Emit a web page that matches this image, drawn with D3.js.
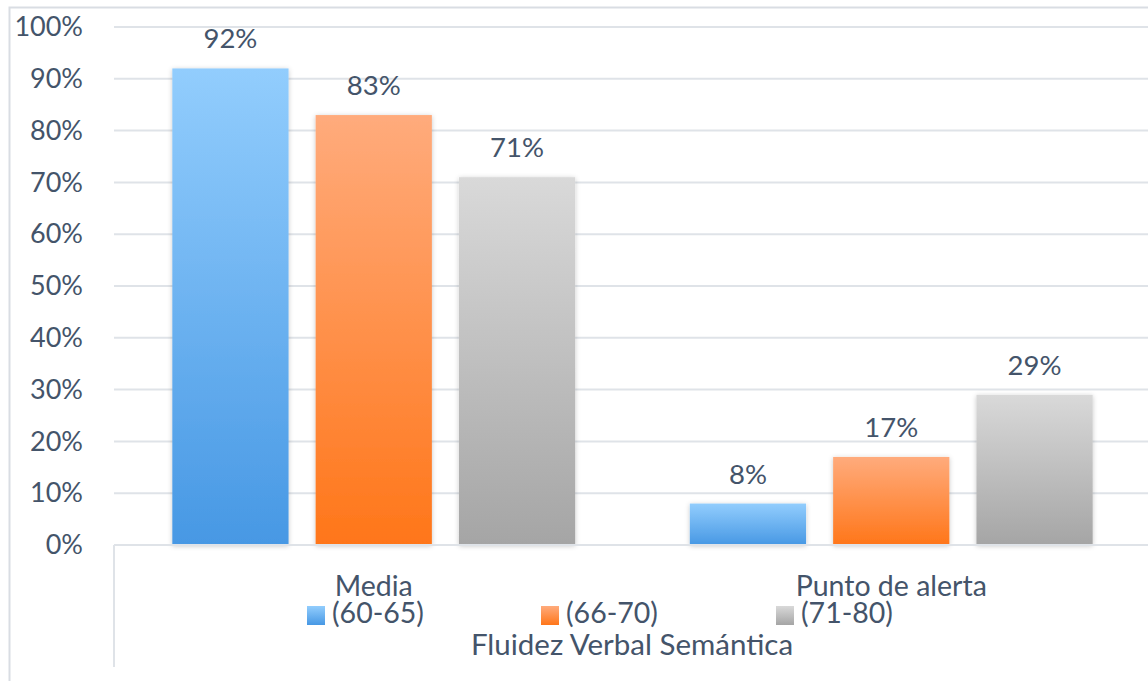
<!DOCTYPE html>
<html>
<head>
<meta charset="utf-8">
<script src="https://cdn.jsdelivr.net/npm/d3@7"></script>
<style>
  body { margin: 0; background: #fff; }
  svg { display: block; font-family: Lato, "Open Sans", sans-serif; }
</style>
</head>
<body>
<div id="chart"></div>
<script>
const categories = ["Media", "Punto de alerta"];
const seriesNames = ["(60-65)", "(66-70)", "(71-80)"];
const seriesValues = [
    [92, 8],
    [83, 17],
    [71, 29]
];
const yTicks = [0, 10, 20, 30, 40, 50, 60, 70, 80, 90, 100];
const axisTitle = "Fluidez Verbal Semántica";

const gradients = [
    ["#92cdfd", "#4798e4"],
    ["#ffab7c", "#ff7619"],
    ["#d9d9d9", "#a5a5a5"]
];
const textColor = "#44546a";

const width = 1148;
const height = 681;
const margin = { top: 27, right: -2, bottom: 136, left: 115 };
const plotW = width - margin.left - margin.right;
const plotH = height - margin.top - margin.bottom;

const svg = d3.select("#chart")
    .append("svg")
    .attr("width", width)
    .attr("height", height);

const defs = svg.append("defs");
gradients.forEach((g, i) => {
    const lg = defs.append("linearGradient")
        .attr("id", "grad" + i)
        .attr("x1", 0).attr("y1", 0).attr("x2", 0).attr("y2", 1);
    lg.append("stop").attr("offset", "0%").attr("stop-color", g[0]);
    lg.append("stop").attr("offset", "100%").attr("stop-color", g[1]);
});
const shadow = defs.append("filter").attr("id", "shadow")
    .attr("x", "-20%").attr("y", "-20%").attr("width", "140%").attr("height", "140%");
shadow.append("feDropShadow")
    .attr("dx", 0).attr("dy", 1).attr("stdDeviation", 2.5)
    .attr("flood-color", "#000").attr("flood-opacity", 0.22);

// outer frame
svg.append("path")
    .attr("d", `M9.5,${height} V7.5 H${width}`)
    .attr("fill", "none")
    .attr("stroke", "#d9dde3")
    .attr("stroke-width", 2);

const g = svg.append("g")
    .attr("transform", `translate(${margin.left},${margin.top})`);

const x0 = d3.scaleBand().domain(categories).range([0, plotW]).paddingInner(0).paddingOuter(0);
const x1 = d3.scaleBand().domain(seriesNames).range([0, x0.bandwidth()]).paddingInner(0.189).paddingOuter(0.4);
const y = d3.scaleLinear().domain([0, 100]).range([plotH, 0]);

// gridlines
g.append("g")
    .selectAll("line")
    .data(yTicks.filter(t => t > 0))
    .enter().append("line")
    .attr("x1", -1).attr("x2", plotW)
    .attr("y1", d => y(d)).attr("y2", d => y(d))
    .attr("stroke", "#dfe3e8")
    .attr("stroke-width", 2);

// y axis labels
const yAxis = d3.axisLeft(y).tickValues(yTicks).tickFormat(d => d + "%").tickSize(0).tickPadding(32);
g.append("g")
    .call(yAxis)
    .call(s => s.select(".domain").remove())
    .selectAll("text")
    .style("font-family", "Lato, 'Open Sans', sans-serif")
    .style("font-size", "27px")
    .attr("fill", textColor);

// bars
const groups = g.selectAll(".cat")
    .data(categories)
    .enter().append("g")
    .attr("class", "cat")
    .attr("transform", d => `translate(${x0(d)},0)`);

groups.selectAll("rect")
    .data((d, ci) => seriesNames.map((s, si) => ({ s, si, v: seriesValues[si][ci] })))
    .enter().append("rect")
    .attr("x", d => x1(d.s))
    .attr("y", d => y(d.v))
    .attr("width", x1.bandwidth())
    .attr("height", d => plotH - y(d.v))
    .attr("fill", d => `url(#grad${d.si})`)
    .attr("filter", "url(#shadow)");

groups.selectAll(".val")
    .data((d, ci) => seriesNames.map((s, si) => ({ s, si, v: seriesValues[si][ci] })))
    .enter().append("text")
    .attr("class", "val")
    .attr("x", d => x1(d.s) + x1.bandwidth() / 2)
    .attr("y", d => y(d.v) - 20)
    .attr("text-anchor", "middle")
    .style("font-size", "27.5px")
    .attr("fill", textColor)
    .text(d => d.v + "%");

// x axis line + category separator
g.append("line")
    .attr("x1", -1).attr("x2", plotW)
    .attr("y1", plotH).attr("y2", plotH)
    .attr("stroke", "#dfe3e8").attr("stroke-width", 2);
g.append("line")
    .attr("x1", -1).attr("x2", -1)
    .attr("y1", plotH).attr("y2", plotH + 122)
    .attr("stroke", "#dfe3e8").attr("stroke-width", 2);

// category labels
g.selectAll(".cat-label")
    .data(categories)
    .enter().append("text")
    .attr("class", "cat-label")
    .attr("x", d => x0(d) + x0.bandwidth() / 2)
    .attr("y", plotH + 51)
    .attr("text-anchor", "middle")
    .style("font-size", "28.5px")
    .attr("fill", textColor)
    .text(d => d);

// legend
const legendX = [307, 541, 776];
const legend = svg.append("g");
seriesNames.forEach((s, i) => {
    legend.append("rect")
        .attr("x", legendX[i]).attr("y", 606)
        .attr("width", 18).attr("height", 19)
        .attr("fill", `url(#grad${i})`);
    legend.append("text")
        .attr("x", legendX[i] + 25).attr("y", 623)
        .style("font-size", "28.5px")
        .attr("fill", textColor)
        .text(s);
});

svg.append("text")
    .attr("x", 632).attr("y", 655)
    .attr("text-anchor", "middle")
    .style("font-size", "29.5px")
    .attr("fill", textColor)
    .text(axisTitle);
</script>
</body>
</html>
